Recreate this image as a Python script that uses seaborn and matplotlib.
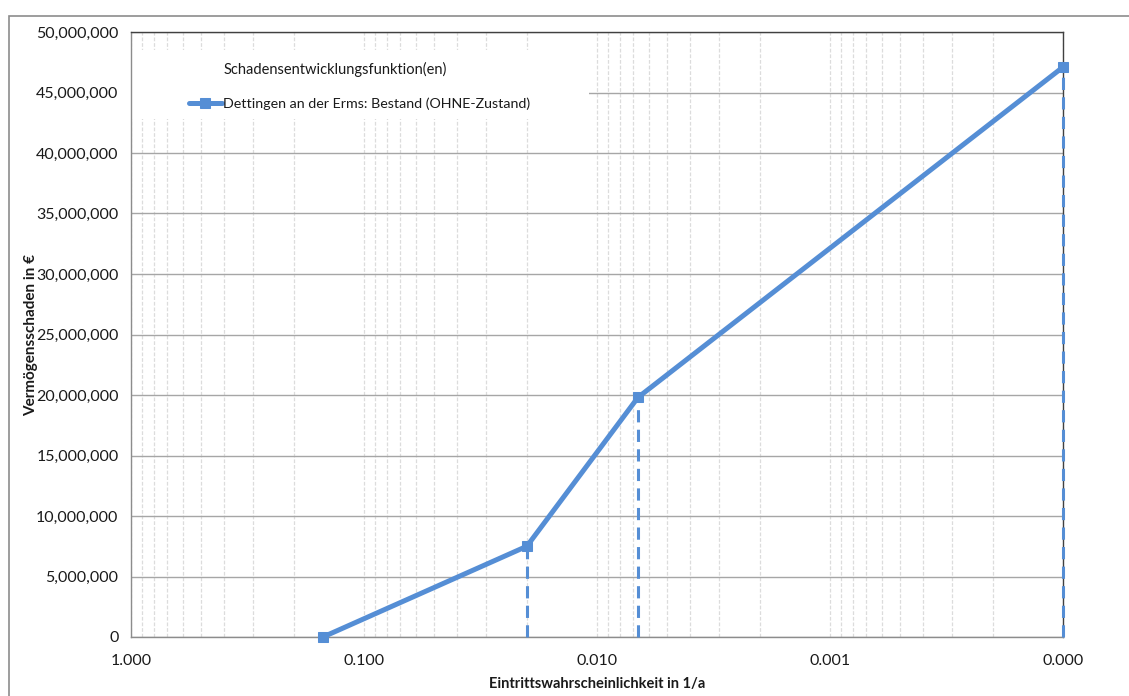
import matplotlib
matplotlib.use("Agg")
import matplotlib.pyplot as plt
import matplotlib.ticker as mticker
from matplotlib.patches import Rectangle
import seaborn as sns
import pandas as pd

# values
probability = [0.15, 0.02, 0.00667, 0.0001]
damage = [0, 7_500_000, 19_800_000, 47_100_000]
series_name = "Dettingen an der Erms: Bestand (OHNE-Zustand)"
legend_title = "Schadensentwicklungsfunktion(en)"
x_ticks = [1, 0.1, 0.01, 0.001, 0.0001]
y_ticks = list(range(0, 50_000_001, 5_000_000))

df = pd.DataFrame({"p": probability, "d": damage})

sns.set_theme(style="white")
plt.rcParams["font.family"] = ["Lato", "DejaVu Sans"]

blue = "#558ED5"

fig = plt.figure(figsize=(11.29, 6.96), dpi=100)
ax = fig.add_axes([131 / 1129, 1 - 637 / 696, (1063 - 131) / 1129, (637 - 32) / 696])

# outer chart border like the spreadsheet frame
fig.patches.append(Rectangle((9 / 1129, -0.02), 1.1, 1 - 16 / 696 + 0.02,
                             transform=fig.transFigure, fill=False,
                             edgecolor="#8c8c8c", linewidth=1.2))

sns.lineplot(data=df, x="p", y="d", ax=ax, color=blue, linewidth=3.6,
             marker="s", markersize=7, markeredgecolor=blue, label=series_name,
             zorder=4, clip_on=False)
ax.vlines(probability[1:], 0, damage[1:], colors=blue, linewidth=2.2,
          linestyles=(0, (4, 2.4)), zorder=3, clip_on=False)

ax.set_xscale("log")
ax.set_xlim(1, 0.0001)
ax.set_ylim(0, 50_000_000)
ax.set_xticks(x_ticks)
ax.set_yticks(y_ticks)
ax.xaxis.set_major_formatter(mticker.FuncFormatter(lambda v, _: f"{v:.3f}"))
ax.yaxis.set_major_formatter(mticker.FuncFormatter(lambda v, _: f"{v:,.0f}"))
ax.xaxis.set_minor_locator(mticker.LogLocator(base=10, subs=range(2, 10)))
ax.xaxis.set_minor_formatter(mticker.NullFormatter())

ax.set_axisbelow(True)
ax.grid(axis="y", which="major", color="#a6a6a6", linewidth=1, linestyle="-")
ax.grid(axis="x", which="both", color="#dcdcdc", linewidth=0.9, linestyle=(0, (3, 1.5)))

ax.tick_params(axis="both", which="major", direction="out", length=4, width=0.9,
               color="#8c8c8c", labelsize=11.5, labelcolor="#1a1a1a", pad=5)
ax.tick_params(axis="x", which="minor", length=0)
ax.tick_params(axis="x", pad=8)

for side in ["left", "bottom"]:
    ax.spines[side].set_color("#8c8c8c")
    ax.spines[side].set_linewidth(1)
for side in ["top", "right"]:
    ax.spines[side].set_color("#404040")
    ax.spines[side].set_linewidth(1)

ax.set_xlabel("Eintrittswahrscheinlichkeit in 1/a", fontsize=10.5, fontweight="bold",
              color="#1a1a1a")
ax.set_ylabel("Vermögensschaden in €", fontsize=11, fontweight="bold",
              color="#1a1a1a")
ax.xaxis.set_label_coords(0.5, -0.078, transform=ax.transAxes)
ax.xaxis.label.set_va("center")
ax.yaxis.set_label_coords(-0.1, 0.5)

# white legend area covering the gridlines
ax.add_patch(Rectangle((0, (637 - 119) / 605), (589 - 131) / 932, (119 - 50) / 605,
                       transform=ax.transAxes, facecolor="white", edgecolor="none",
                       zorder=2))
ax.text((224 - 131) / 932, (637 - 69) / 605, legend_title, transform=ax.transAxes,
        fontsize=10.5, color="#1a1a1a", ha="left", va="center", zorder=5)
leg = ax.legend(loc="center left", frameon=False, bbox_to_anchor=((189 - 131) / 932, (637 - 104) / 605),
                fontsize=10.3, handlelength=2.3, handletextpad=0.1,
                borderpad=0, borderaxespad=0)
for t in leg.get_texts():
    t.set_color("#1a1a1a")
leg.set_zorder(5)

fig.savefig("out.png", dpi=100)
